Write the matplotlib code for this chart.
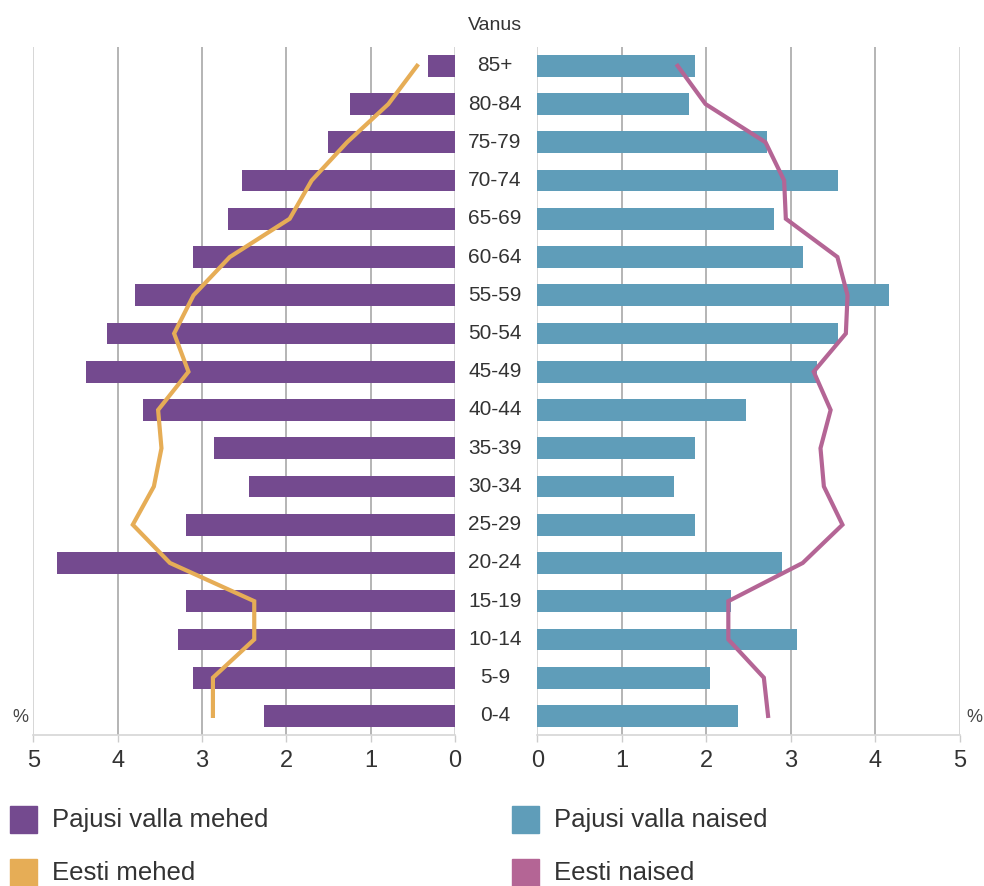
import numpy as np
import matplotlib.pyplot as plt
from matplotlib.patches import Rectangle
from matplotlib.transforms import blended_transform_factory

# age groups, bottom to top
ages = ["0-4", "5-9", "10-14", "15-19", "20-24", "25-29", "30-34", "35-39", "40-44",
        "45-49", "50-54", "55-59", "60-64", "65-69", "70-74", "75-79", "80-84", "85+"]

# % of population
pajusi_mehed = [2.27, 3.11, 3.28, 3.19, 4.72, 3.19, 2.44, 2.86, 3.70,
                4.38, 4.12, 3.79, 3.11, 2.69, 2.52, 1.50, 1.25, 0.32]
pajusi_naised = [2.38, 2.04, 3.07, 2.29, 2.89, 1.87, 1.62, 1.87, 2.47,
                 3.31, 3.56, 4.16, 3.14, 2.80, 3.56, 2.72, 1.79, 1.87]
eesti_mehed = [2.87, 2.87, 2.38, 2.38, 3.38, 3.82, 3.57, 3.48, 3.52,
               3.16, 3.33, 3.10, 2.67, 1.96, 1.70, 1.28, 0.79, 0.45]
eesti_naised = [2.73, 2.68, 2.26, 2.26, 3.14, 3.61, 3.39, 3.35, 3.47,
                3.27, 3.65, 3.67, 3.55, 2.94, 2.92, 2.70, 1.99, 1.66]

C_PM = "#744a8f"
C_PN = "#5f9db9"
C_EM = "#e6ad56"
C_EN = "#b46595"
TXT = "#333333"

plt.rcParams["font.family"] = ["Liberation Sans", "DejaVu Sans"]

fig = plt.figure(figsize=(9.84, 8.86), dpi=100)
ax_l = fig.add_axes([0.0338, 0.1704, 0.4286, 0.7769])
ax_r = fig.add_axes([0.5460, 0.1704, 0.4296, 0.7769])

y = np.arange(len(ages))

ax_l.barh(y, pajusi_mehed, height=0.57, color=C_PM, zorder=2)
ax_l.plot(eesti_mehed, y, color=C_EM, lw=3, zorder=3, solid_joinstyle="miter")
ax_r.barh(y, pajusi_naised, height=0.57, color=C_PN, zorder=2)
ax_r.plot(eesti_naised, y, color=C_EN, lw=3, zorder=3, solid_joinstyle="miter")

ax_l.set_xlim(5, 0)
ax_r.set_xlim(0, 5)

for ax in (ax_l, ax_r):
    ax.set_ylim(-0.5, 17.5)
    ax.set_yticks([])
    ax.set_xticks(range(6))
    ax.tick_params(axis="x", length=5, width=1, color="#cccccc", labelsize=17,
                   labelcolor=TXT, pad=6)
    for s in ("top", "left", "right"):
        ax.spines[s].set_visible(False)
    ax.spines["bottom"].set_color("#d6d6d6")
    ax.spines["bottom"].set_linewidth(1.2)
    for v in range(6):
        edge = v in (0, 5)
        ax.axvline(v, color="#d0d0d0" if edge else "#a8a8a8", lw=1.2, zorder=1)

# age labels in the middle
tr = blended_transform_factory(fig.transFigure, ax_r.transData)
for i, a in enumerate(ages):
    fig.text(495 / 984, i, a, transform=tr, ha="center", va="center",
             fontsize=15, color=TXT)

fig.text(495 / 984, 1 - 25 / 886, "Vanus", ha="center", va="center",
         fontsize=14, color=TXT)
fig.text(20 / 984, 1 - 718 / 886, "%", ha="center", va="center", fontsize=13, color="#444444")
fig.text(974 / 984, 1 - 718 / 886, "%", ha="center", va="center", fontsize=13, color="#444444")

# legend
legend_items = [("Pajusi valla mehed", C_PM, 10, 819),
                ("Pajusi valla naised", C_PN, 512, 819),
                ("Eesti mehed", C_EM, 10, 872),
                ("Eesti naised", C_EN, 512, 872)]
for label, col, lx, ly in legend_items:
    fig.add_artist(Rectangle((lx / 984, 1 - (ly + 13.5) / 886), 27 / 984, 27 / 886,
                             transform=fig.transFigure, color=col))
    fig.text((lx + 42) / 984, 1 - (ly + 1) / 886, label, ha="left", va="center",
             fontsize=18.5, color=TXT)

fig.savefig("out.png", dpi=100)
